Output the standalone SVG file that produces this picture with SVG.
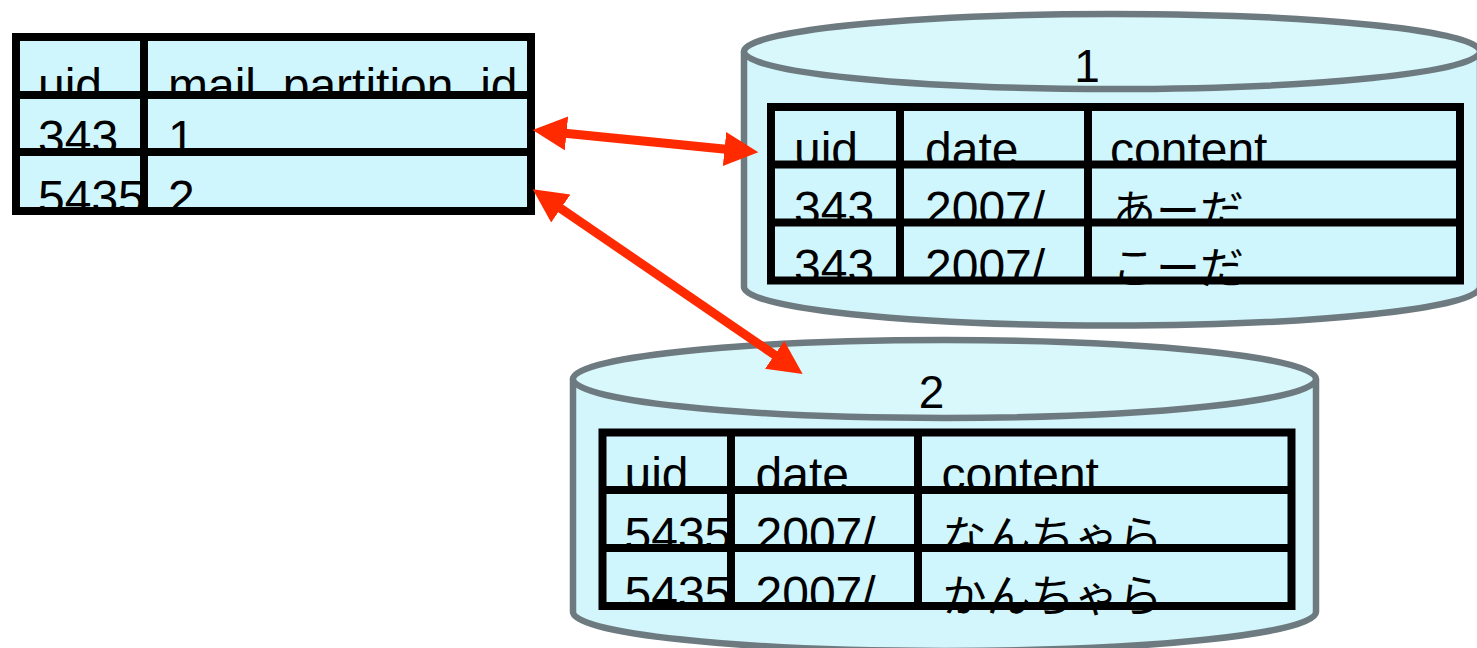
<svg xmlns="http://www.w3.org/2000/svg" width="1477" height="648" viewBox="0 0 1477 648">
  <style>
    .cell{fill:#d0f6fd}
    .grid{fill:none;stroke:#000;stroke-width:8}
    .t{font-family:"Liberation Sans","Noto Sans CJK JP",sans-serif;font-size:48px;fill:#000}
    .j{font-family:"Noto Sans CJK JP","Liberation Sans",sans-serif;font-size:44px;fill:#000}
    .lbl{font-family:"Liberation Sans",sans-serif;font-size:46px;fill:#000;text-anchor:middle}
    .cyl-body{fill:#d3f6fc;stroke:#6d7b81;stroke-width:6.5}
    .cyl-top{fill:#d9f8fc;stroke:#6d7b81;stroke-width:6.5}
    .arrow{stroke:#ff2a00;stroke-width:9;fill:none}
  </style>
  <defs>
    <marker id="head" markerUnits="userSpaceOnUse" markerWidth="40" markerHeight="40" viewBox="0 0 40 40" refX="4" refY="17" orient="auto-start-reverse">
      <path d="M0,0 L34,17 L0,34 Z" fill="#ff2a00"/>
    </marker>
  </defs>

  <!-- mapping table -->
  <g id="mapping-table" transform="translate(16,37)">
    <rect class="cell" x="0" y="0" width="515" height="58"/>
    <text class="t" x="22" y="65">uid</text>
    <text class="t" x="152" y="65">mail_partition_id</text>
    <rect class="cell" x="0" y="58" width="515" height="57"/>
    <text class="t" x="22" y="117">343</text>
    <text class="t" x="152" y="117">1</text>
    <rect class="cell" x="0" y="115" width="515" height="59"/>
    <text class="t" x="22" y="177">5435</text>
    <text class="t" x="152" y="177">2</text>
    <rect class="grid" x="0" y="0" width="515" height="174"/>
    <path class="grid" d="M0,58 H515 M0,115 H515 M128,0 V174"/>
  </g>

  <!-- partition 1 -->
  <g id="partition-1">
    <path class="cyl-body" d="M744,51.5 V287 A368,38.5 0 0 0 1480,287 V51.5"/>
    <ellipse class="cyl-top" cx="1112" cy="51.5" rx="368" ry="37.5"/>
    <text class="lbl" x="1087" y="82">1</text>
    <g transform="translate(771,107)">
      <rect class="cell" x="0" y="0" width="689" height="57.5"/>
      <text class="t" x="23" y="59">uid</text>
      <text class="t" x="154" y="59">date</text>
      <text class="t" x="339" y="59">content</text>
      <rect class="cell" x="0" y="57.5" width="689" height="58"/>
      <text class="t" x="23" y="118">343</text>
      <text class="t" x="154" y="118">2007/</text>
      <text class="j" x="341" y="120">あーだ</text>
      <rect class="cell" x="0" y="115.5" width="689" height="58"/>
      <text class="t" x="23" y="176">343</text>
      <text class="t" x="154" y="176">2007/...</text>
      <text class="j" x="341" y="177">こーだ</text>
      <rect class="grid" x="0" y="0" width="689" height="173.5"/>
      <path class="grid" d="M0,57.5 H689 M0,115.5 H689 M129,0 V173.5 M317,0 V173.5"/>
    </g>
  </g>

  <!-- partition 2 -->
  <g id="partition-2">
    <path class="cyl-body" d="M573,379 V612 A371.5,39 0 0 0 1316,612 V379"/>
    <ellipse class="cyl-top" cx="944.5" cy="379" rx="371.5" ry="39"/>
    <text class="lbl" x="931.5" y="408">2</text>
    <g transform="translate(602.5,432.5)">
      <rect class="cell" x="0" y="0" width="689" height="57.5"/>
      <text class="t" x="22" y="58.5">uid</text>
      <text class="t" x="153" y="58.5">date</text>
      <text class="t" x="339" y="58.5">content</text>
      <rect class="cell" x="0" y="57.5" width="689" height="58"/>
      <text class="t" x="22" y="118.5">5435</text>
      <text class="t" x="153" y="118.5">2007/</text>
      <text class="j" x="340" y="120">なんちゃら</text>
      <rect class="cell" x="0" y="115.5" width="689" height="58"/>
      <text class="t" x="22" y="177">5435</text>
      <text class="t" x="153" y="177">2007/</text>
      <text class="j" x="340" y="179">かんちゃら</text>
      <rect class="grid" x="0" y="0" width="689" height="173.5"/>
      <path class="grid" d="M0,57.5 H689 M0,115.5 H689 M128.5,0 V173.5 M315.5,0 V173.5"/>
    </g>
  </g>

  <!-- connectors -->
  <g id="connectors">
    <line class="arrow" x1="562.5" y1="133" x2="728.5" y2="149.4" marker-start="url(#head)" marker-end="url(#head)"/>
    <line class="arrow" x1="557.5" y1="206.2" x2="777.9" y2="357.1" marker-start="url(#head)" marker-end="url(#head)"/>
  </g>
</svg>
